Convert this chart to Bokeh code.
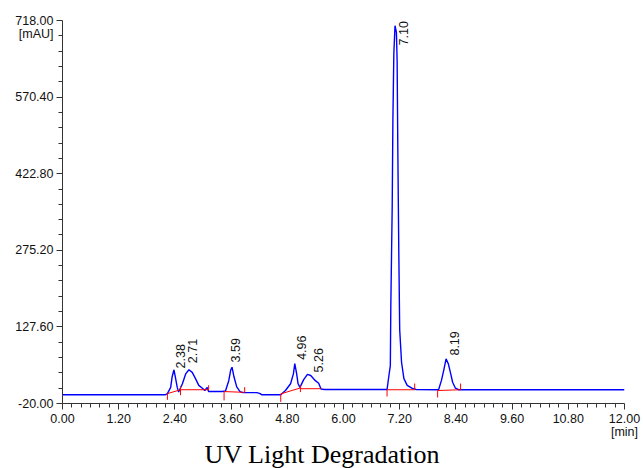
import math
from bokeh.plotting import figure
from bokeh.models import Range1d, FixedTicker, PrintfTickFormatter, Label, Title
from bokeh.embed import file_html
from bokeh.resources import INLINE

# ---- chromatogram trace (time in min, signal in mAU) ----
trace_time = [0.00, 2.20, 2.24, 2.31, 2.34, 2.38, 2.41, 2.45, 2.48, 2.56, 2.63, 2.70, 2.77, 2.84,
              2.91, 2.98, 3.04, 3.09, 3.12, 3.41, 3.48, 3.55, 3.59, 3.62, 3.66, 3.72, 3.79, 3.85,
              4.15, 4.22, 4.25, 4.66, 4.76, 4.87, 4.93, 4.96, 5.00, 5.03, 5.07, 5.15, 5.23, 5.30,
              5.40, 5.47, 5.52, 5.60, 6.93, 6.97, 7.00, 7.01, 7.04, 7.055, 7.075, 7.10, 7.13, 7.145,
              7.16, 7.18, 7.20, 7.24, 7.29, 7.36, 7.47, 7.55, 8.03, 8.09, 8.14, 8.19, 8.24, 8.29,
              8.33, 8.39, 8.46, 12.00]
trace_mau = [-3, -3, -1, 11, 31, 45, 31, 11, 2, 18, 37, 45, 40, 28,
             15, 10, 5, 11, 3, 3, 4, 24, 44, 50, 32, 12, 3, 1,
             1, -1, -3, -3, 5, 18, 37, 57, 37, 18, 11, 26, 36, 34,
             24, 19, 8, 7, 7, 34, 53, 165, 360, 529, 655, 708, 695, 640,
             467, 278, 122, 59, 28, 15, 9, 7, 6.5, 24, 44, 66, 56, 37,
             21, 9.5, 6.5, 6.5]

# ---- peaks ----
peak_labels = ["2.38", "2.71", "3.59", "4.96", "5.26", "7.10", "8.19"]
peak_times = [2.38, 2.71, 3.59, 4.96, 5.26, 7.10, 8.19]
peak_heights = [45, 45, 50, 57, 36, 708, 66]

# ---- integration baselines ----
base_t0 = [2.24, 2.52, 3.45, 4.66, 5.08, 6.93, 8.01]
base_v0 = [-1, 6.5, 3, -1.5, 8.5, 6.5, 5]
base_t1 = [2.52, 3.12, 3.89, 5.08, 5.52, 7.52, 8.50]
base_v1 = [6.5, 6.5, 1.5, 10, 8.5, 6.5, 6.5]

# ---- peak delimiter marks ----
mark_t = [2.24, 2.52, 3.12, 3.45, 3.89, 4.66, 5.08, 6.93, 7.52, 8.01, 8.50]
mark_lo = [-13, -4, 6.5, -14, 1.5, -17, 2, -6.5, 6.5, -8.5, 6.5]
mark_hi = [-1, 13, 15, 3, 11.5, -1.5, 15, 6.5, 18.5, 5, 18.5]

# ---- axes ----
x_ticks = [0.0, 1.2, 2.4, 3.6, 4.8, 6.0, 7.2, 8.4, 9.6, 10.8, 12.0]
y_ticks = [-20.0, 127.6, 275.2, 422.8, 570.4, 718.0]
x_unit = "[min]"
y_unit = "[mAU]"
title_text = "UV Light Degradation"


def minor(ticks, n):
    out = []
    for a, b in zip(ticks[:-1], ticks[1:]):
        out += [a + (b - a) * k / n for k in range(1, n)]
    return out


p = figure(width=643, height=468, output_backend="svg", toolbar_location=None, title=None,
           x_range=Range1d(0, 12), y_range=Range1d(-20, 718),
           min_border_left=62, min_border_right=19, min_border_top=20, min_border_bottom=65)
p.outline_line_color = None
p.xgrid.visible = False
p.ygrid.visible = False
p.background_fill_color = "white"

p.xaxis.ticker = FixedTicker(ticks=x_ticks, minor_ticks=minor(x_ticks, 6))
p.yaxis.ticker = FixedTicker(ticks=y_ticks, minor_ticks=minor(y_ticks, 5))
for ax in (p.xaxis[0], p.yaxis[0]):
    ax.formatter = PrintfTickFormatter(format="%.2f")
    ax.axis_line_color = "#333333"
    ax.major_tick_line_color = "#333333"
    ax.minor_tick_line_color = "#333333"
    ax.major_tick_out = 6
    ax.major_tick_in = 0
    ax.minor_tick_out = 4
    ax.minor_tick_in = 0
    ax.major_label_text_font = "Liberation Sans"
    ax.major_label_text_font_size = "12.5px"
    ax.major_label_text_color = "#111111"
p.xaxis.major_label_standoff = 2
p.yaxis.major_label_standoff = 3
p.xaxis.major_label_overrides = {x_ticks[-1]: "%.2f\n%s" % (x_ticks[-1], x_unit)}
p.xaxis.major_label_text_line_height = 0.95
# unit shown under the top tick value: blank line above keeps the value centred on its tick
p.yaxis.major_label_overrides = {y_ticks[-1]: " \n%.2f\n%s" % (y_ticks[-1], y_unit)}
p.yaxis.major_label_text_line_height = 0.95

p.line(trace_time, trace_mau, line_color="#0000ff", line_width=1.4)
p.segment(x0=base_t0, y0=base_v0, x1=base_t1, y1=base_v1, line_color="#ff0000", line_width=1)
p.segment(x0=mark_t, y0=mark_lo, x1=mark_t, y1=mark_hi, line_color="#ff0000", line_width=1)

# peak label placement (pixels right of / above the apex)
label_dx = [6.5, 3, 4.4, 7.2, 9.7, 8, 8.5]
label_dy = [1.3, 6.6, 4.7, 3.7, 2, 0, 3.3]
for txt, t, h, dx, dy in zip(peak_labels, peak_times, peak_heights, label_dx, label_dy):
    p.add_layout(Label(x=t, y=min(h, 670), x_offset=dx, y_offset=dy, text=txt,
                       angle=math.pi / 2, text_align="left", text_baseline="middle",
                       text_font="Liberation Sans", text_font_size="12.5px",
                       text_color="#111111"))

p.add_layout(Title(text=title_text, align="left", offset=142, standoff=-5,
                   vertical_align="middle", text_line_height=1.0,
                   text_font="Liberation Serif", text_font_size="26px",
                   text_font_style="normal", text_color="black"), "below")

open("out.html", "w").write(file_html(p, INLINE))
